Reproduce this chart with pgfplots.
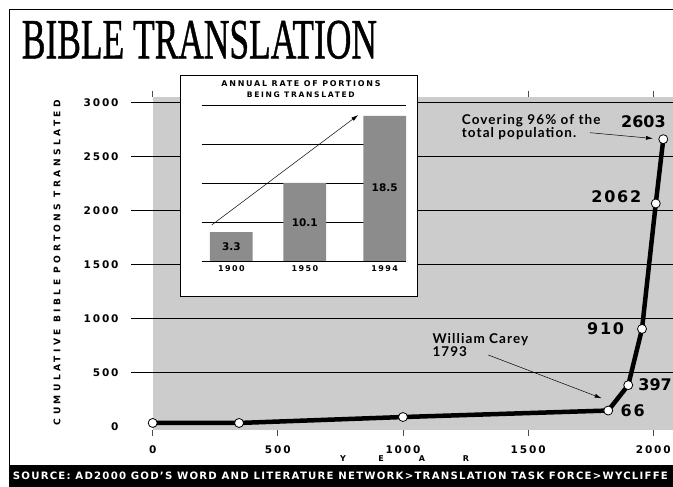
\documentclass[border=0pt]{standalone}
\usepackage{fontspec}
\setmainfont{Lato}
\newfontfamily\dvT[LetterSpace=18]{DejaVu Sans}
\newfontfamily\dvN[LetterSpace=11]{DejaVu Sans}
\newfontfamily\dvY[LetterSpace=37]{DejaVu Sans}
\newfontfamily\dvI[LetterSpace=22]{DejaVu Sans}
\newfontfamily\dvS[LetterSpace=12]{DejaVu Sans}
\newfontfamily\dvP{DejaVu Sans}
\newfontfamily\lsA[LetterSpace=8]{Lato}
\newfontfamily\titlefont[FakeBold=1]{Liberation Serif}
\usepackage{pgfplots}
\pgfplotsset{compat=1.18}
\usetikzlibrary{arrows.meta}
\definecolor{bggray}{RGB}{204,204,204}
\definecolor{bargray}{RGB}{140,140,140}
\begin{document}
\begin{tikzpicture}
\path[use as bounding box] (0,0) rectangle (673pt,487pt);
% frame and source band
\draw[line width=1pt] (9.3pt,0pt) -- (9.3pt,477.7pt) -- (680pt,477.7pt);
\fill[black] (9.3pt,0pt) rectangle (680pt,22pt);
\node[anchor=west, inner sep=0pt, text=white] at (12.7pt,11pt)
  {\resizebox{655pt}{!}{\dvS\bfseries\fontsize{9.5}{11}\selectfont SOURCE: AD2000 GOD’S WORD AND LITERATURE NETWORK>TRANSLATION TASK FORCE>WYCLIFFE}};
% title
\node[anchor=base west, inner sep=0pt] at (21.7pt,428.7pt)
  {\resizebox{355pt}{37.6pt}{\titlefont BIBLE TRANSLATION}};
% main axis
\begin{axis}[
  at={(152.7pt,57pt)}, anchor=south west,
  scale only axis, width=520.6pt, height=333pt,
  xmin=0, xmax=2080, ymin=-30, ymax=3050,
  clip=false,
  axis background/.style={fill=bggray},
  axis line style={draw=none},
  /pgf/number format/assume math mode=true,
  /pgf/number format/1000 sep={},
  tick align=outside,
  xtick={0,500,...,2000},
  ytick={500,1000,...,3000},
  extra y ticks={0},
  extra y tick style={grid=none, ytick style={/pgfplots/major tick length=0pt}},
  ymajorgrids,
  grid style={black, line width=0.8pt},
  ytick style={black, line width=0.8pt, /pgfplots/major tick length=21.3pt},
  xtick style={black!70, line width=0.7pt, /pgfplots/major tick length=6pt},
  ticklabel style={font=\dvT\bfseries\fontsize{10.5}{12}\selectfont, inner sep=0pt},
  yticklabel style={anchor=east, xshift=-29.7pt},
  xticklabel style={anchor=north, yshift=-11pt},
]
\addplot[black, line width=4.5pt, line join=round, mark=*,
  mark options={fill=white, draw=black, line width=0.8pt, mark size=4.5pt}]
  coordinates {(0,35) (345,35) (1000,90) (1820,150) (1900,385) (1955,905) (2010,2065) (2040,2660)};
\begin{scope}[font=\dvN\bfseries\fontsize{16}{18}\selectfont, inner sep=0pt]
\node[anchor=west, xshift=12.3pt] at (axis cs:1820,150) {66};
\node[anchor=west, xshift=10pt, font=\dvP\bfseries\fontsize{16}{18}\selectfont] at (axis cs:1900,385) {397};
\node[anchor=east, xshift=-17.7pt] at (axis cs:1955,905) {910};
\node[anchor=east, xshift=-14.3pt, yshift=6.6pt] at (axis cs:2010,2065) {2062};
\node[anchor=west, xshift=-42.3pt, yshift=17.3pt, font=\dvP\bfseries\fontsize{16}{18}\selectfont] at (axis cs:2040,2660) {2603};
\end{scope}
\end{axis}
% y label and x label
\node[rotate=90, inner sep=0pt] at (57pt,224.5pt)
  {\resizebox{325pt}{!}{\dvY\bfseries\fontsize{9}{10}\selectfont CUMULATIVE BIBLE PORTONS TRANSLATED}};
\begin{scope}[font=\dvP\bfseries\fontsize{8}{10}\selectfont, inner sep=0pt, anchor=base]
\node at (343pt,25pt) {Y};
\node at (381pt,25pt) {E};
\node at (422pt,25pt) {A};
\node at (466pt,25pt) {R};
\end{scope}
% inset
\draw[line width=0.9pt, fill=white] (180pt,191pt) rectangle (417.7pt,412pt);
\node[inner sep=0pt] at (301pt,403pt)
  {\resizebox{159pt}{!}{\dvI\bfseries\fontsize{7.5}{9}\selectfont ANNUAL RATE OF PORTIONS}};
\node[inner sep=0pt] at (300.8pt,392pt)
  {\resizebox{108pt}{!}{\dvI\bfseries\fontsize{7.5}{9}\selectfont BEING TRANSLATED}};
\begin{axis}[
  at={(201.7pt,226pt)}, anchor=south west,
  scale only axis, width=204.3pt, height=156pt,
  xmin=-0.403, xmax=2.377, ymin=0, ymax=20,
  clip=false,
  axis line style={draw=none},
  ybar, bar width=42.7pt,
  ytick={0,5,...,20}, yticklabels={},
  ymajorgrids, grid style={black, line width=0.8pt},
  major tick length=0pt,
  xtick={0,1,2.087}, xticklabels={1900,1950,1994},
  xticklabel style={font=\dvT\bfseries\fontsize{8}{9}\selectfont, inner sep=0pt, anchor=north, yshift=-4pt},
]
\addplot[fill=bargray, draw=none] coordinates {(0,3.7) (1,10.0) (2.087,18.6)};
\begin{scope}[font=\dvP\bfseries\fontsize{10.5}{12}\selectfont, inner sep=0pt]
\node at (axis cs:0,1.8) {3.3};
\node at (axis cs:1,4.96) {10.1};
\node at (axis cs:2.087,9.36) {18.5};
\end{scope}
\end{axis}
\draw[line width=0.5pt, -{Latex[length=7pt,width=4pt]}] (211.7pt,262pt) -- (358.3pt,372pt);
% annotations
\begin{scope}[font=\lsA\bfseries\fontsize{13.5}{15}\selectfont, inner sep=0pt]
\node[anchor=base west] at (461.7pt,362.7pt) {Covering 96\% of the};
\node[anchor=base west] at (461.7pt,349.3pt) {total population.};
\node[anchor=base west] at (432.3pt,143pt) {William Carey};
\node[anchor=base west] at (432.3pt,130.3pt) {1793};
\end{scope}
\draw[line width=0.5pt, -{Latex[length=7pt,width=4pt]}] (590pt,354.3pt) -- (653pt,348.5pt);
\draw[line width=0.5pt, -{Latex[length=7pt,width=4pt]}] (488.3pt,132pt) -- (601.7pt,88.7pt);
\end{tikzpicture}
\end{document}
